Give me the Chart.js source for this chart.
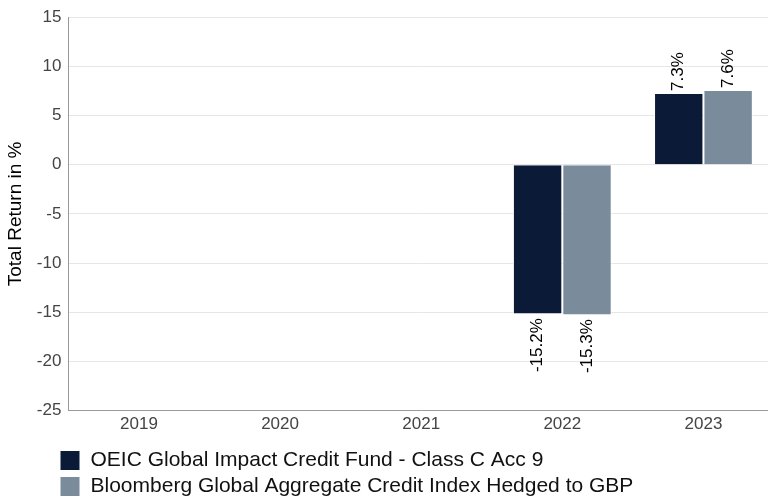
<!DOCTYPE html>
<html>
<head>
<meta charset="utf-8">
<script src="https://cdn.jsdelivr.net/npm/chart.js@4/dist/chart.umd.min.js"></script>
<style>
  html, body { margin: 0; padding: 0; background: #fff; overflow: hidden; }
  #wrap { width: 768px; height: 500px; overflow: hidden; }
</style>
</head>
<body>
<div id="wrap"><canvas id="chart" width="776" height="501"></canvas></div>
<script>
// Chart data
const years = ['2019', '2020', '2021', '2022', '2023'];
const fundReturns = [null, null, null, -15.2, 7.3];
const indexReturns = [null, null, null, -15.3, 7.6];
const seriesNames = [
    'OEIC Global Impact Credit Fund - Class C Acc 9',
    'Bloomberg Global Aggregate Credit Index Hedged to GBP'
];
const yMin = -25;
const yMax = 15;
const yStep = 5;

const fontFamily = '"Liberation Sans", Arial, sans-serif';

// Rotated value labels above / below each bar
const barLabels = {
    id: 'barLabels',
    afterDatasetsDraw(chart) {
        const ctx = chart.ctx;
        ctx.save();
        ctx.font = '17px ' + fontFamily;
        ctx.fillStyle = '#000';
        ctx.textBaseline = 'middle';
        chart.data.datasets.forEach((ds, i) => {
            chart.getDatasetMeta(i).data.forEach((bar, j) => {
                const v = ds.data[j];
                if (v === null || v === undefined) return;
                ctx.save();
                ctx.translate(bar.x, bar.y + (v >= 0 ? -2 : 4));
                ctx.rotate(-Math.PI / 2);
                ctx.textAlign = v >= 0 ? 'left' : 'right';
                ctx.fillText(v.toFixed(1) + '%', 0, 0);
                ctx.restore();
            });
        });
        ctx.restore();
    }
};

// Move the legend block to where the original puts it
const legendShift = {
    id: 'legendShift',
    afterLayout(chart) {
        const lg = chart.legend;
        if (!lg) return;
        lg.left += 55;
        lg.right += 55;
        lg.top += 6;
        lg.bottom += 6;
    }
};

const ctx = document.getElementById('chart').getContext('2d');
new Chart(ctx, {
    type: 'bar',
    data: {
        labels: years,
        datasets: [
            {
                label: seriesNames[0],
                data: fundReturns,
                backgroundColor: '#0b1a37',
                borderColor: '#ffffff',
                borderWidth: 1
            },
            {
                label: seriesNames[1],
                data: indexReturns,
                backgroundColor: '#7a8b9b',
                borderColor: '#ffffff',
                borderWidth: 1
            }
        ]
    },
    options: {
        responsive: false,
        animation: false,
        layout: { padding: { top: 7, right: 2, left: 0, bottom: 0 } },
        datasets: {
            bar: { barPercentage: 1, categoryPercentage: 0.7 }
        },
        plugins: {
            legend: {
                position: 'bottom',
                align: 'start',
                labels: {
                    boxWidth: 20,
                    boxHeight: 20,
                    padding: 5,
                    color: '#111',
                    font: { size: 21, family: fontFamily }
                }
            },
            tooltip: { enabled: false }
        },
        scales: {
            x: {
                grid: { display: false, drawTicks: false },
                border: { display: true, color: '#999999', width: 1 },
                ticks: {
                    color: '#444',
                    padding: 4,
                    font: { size: 17, family: fontFamily }
                }
            },
            y: {
                min: yMin,
                max: yMax,
                grid: { color: '#e6e6e6', drawTicks: false },
                border: { display: true, color: '#999999', width: 1 },
                ticks: {
                    stepSize: yStep,
                    color: '#444',
                    padding: 7,
                    font: { size: 17, family: fontFamily }
                },
                title: {
                    display: true,
                    text: 'Total Return in %',
                    color: '#000',
                    padding: { top: 4, bottom: 3 },
                    font: { size: 19, family: fontFamily }
                }
            }
        }
    },
    plugins: [barLabels, legendShift]
});
</script>
</body>
</html>
